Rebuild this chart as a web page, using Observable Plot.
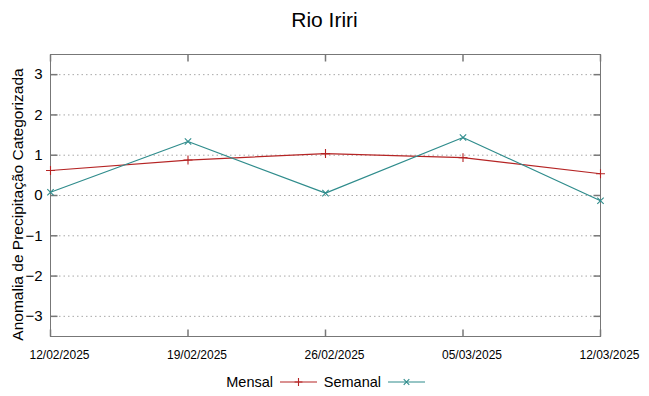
<!DOCTYPE html>
<html>
<head>
<meta charset="utf-8">
<script src="https://cdn.jsdelivr.net/npm/d3@7"></script>
<script src="https://cdn.jsdelivr.net/npm/@observablehq/plot@0.6"></script>
<style>
  html, body { margin: 0; padding: 0; background: #fff; }
  #wrap { position: relative; width: 649px; height: 396px; font-family: "Liberation Sans", Arial, sans-serif; background: #fff; overflow: hidden; }
  #chart { position: absolute; left: 0; top: 0; }
  #title { position: absolute; left: 0; top: 9px; width: 649px; text-align: center; font-size: 21px; line-height: 21px; color: #000; z-index: 2; }
  #legend { position: absolute; left: 0; top: 370px; z-index: 2; }
</style>
</head>
<body>
<div id="wrap">
  <div id="chart"></div>
  <div id="title">Rio Iriri</div>
  <div id="legend"></div>
</div>
<script>
// ---- data ----
const titleText = "Rio Iriri";
const yLabel = "Anomalia de Precipitação Categorizada";
const dates = ["12/02/2025", "19/02/2025", "26/02/2025", "05/03/2025", "12/03/2025"];
const mensal = [0.62, 0.88, 1.04, 0.94, 0.54];
const semanal = [0.08, 1.34, 0.06, 1.44, -0.13];
const yTicks = [-3, -2, -1, 0, 1, 2, 3];
const seriesNames = ["Mensal", "Semanal"];
const seriesColors = ["#b52424", "#2f8c8c"];
const seriesSymbols = ["plus", "times"];

// ---- build ----
const parse = d3.utcParse("%d/%m/%Y");
const xDates = dates.map(parse);
const seriesValues = [mensal, semanal];
const rows = [];
seriesNames.forEach((name, s) => {
  seriesValues[s].forEach((v, i) => rows.push({series: name, date: xDates[i], value: v}));
});

const frameColor = "#777";
const tickSym = (ux, uy) => ({
  draw(ctx, size) {
    const l = Math.sqrt(size / Math.PI);
    ctx.moveTo(0, 0);
    ctx.lineTo(ux * l, uy * l);
  }
});

const chart = Plot.plot({
  width: 649,
  height: 370,
  marginLeft: 50,
  marginRight: 49,
  marginTop: 54,
  marginBottom: 34,
  style: {fontFamily: "'Liberation Sans', Arial, sans-serif", fontSize: "15px", color: "#000", background: "transparent"},
  x: {type: "utc", domain: [xDates[0], xDates[xDates.length - 1]]},
  y: {domain: [-3.5, 3.5]},
  color: {domain: seriesNames, range: seriesColors},
  symbol: {domain: seriesNames, range: seriesSymbols},
  marks: [
    Plot.ruleY(yTicks, {y: d => d, stroke: "#a8a8a8", strokeDasharray: "1.5,3", strokeWidth: 1}),
    Plot.frame({stroke: frameColor, strokeWidth: 1}),
    // inward ticks
    Plot.dot(yTicks, {y: d => d, frameAnchor: "left", symbol: tickSym(1, 0), r: 7, stroke: frameColor, fill: "none"}),
    Plot.dot(yTicks, {y: d => d, frameAnchor: "right", symbol: tickSym(-1, 0), r: 7, stroke: frameColor, fill: "none"}),
    Plot.dot(xDates, {x: d => d, frameAnchor: "bottom", symbol: tickSym(0, -1), r: 7, stroke: frameColor, fill: "none"}),
    Plot.dot(xDates, {x: d => d, frameAnchor: "top", symbol: tickSym(0, 1), r: 7, stroke: frameColor, fill: "none"}),
    Plot.axisY({ticks: yTicks, tickFormat: d3.format("d"), tickSize: 0, tickPadding: 8, fontSize: 15, label: null}),
    Plot.axisX({ticks: xDates, tickFormat: d3.utcFormat("%d/%m/%Y"), tickSize: 0, tickPadding: 14, dx: 9, fontSize: 12, label: null}),
    Plot.text([yLabel], {text: d => d, frameAnchor: "left", rotate: -90, dx: -32, dy: 9, fontSize: 15.5, textAnchor: "middle", fill: "#000"}),
    Plot.line(rows, {x: "date", y: "value", z: "series", stroke: "series", strokeWidth: 1.2}),
    Plot.dot(rows, {x: "date", y: "value", symbol: "series", stroke: "series", r: 3, strokeWidth: 1.1})
  ]
});
document.getElementById("chart").appendChild(chart);
document.getElementById("title").textContent = titleText;

// ---- legend ----
const lg = d3.select("#legend").append("svg").attr("width", 649).attr("height", 26)
  .style("font-family", "'Liberation Sans', Arial, sans-serif");
const legendEnds = [273, 381];
seriesNames.forEach((name, i) => {
  const xe = legendEnds[i];
  lg.append("text").attr("x", xe).attr("y", 12).attr("dy", "0.35em")
    .attr("text-anchor", "end").attr("font-size", 14.5).attr("fill", "#000").text(name);
  lg.append("line").attr("x1", xe + 7).attr("x2", xe + 44).attr("y1", 12).attr("y2", 12)
    .attr("stroke", seriesColors[i]).attr("stroke-width", 1.2);
  const sym = seriesSymbols[i] === "plus" ? d3.symbolPlus : d3.symbolTimes;
  lg.append("path").attr("d", d3.symbol(sym, 22)())
    .attr("transform", `translate(${xe + 25.5},12)`)
    .attr("fill", "none").attr("stroke", seriesColors[i]).attr("stroke-width", 1.1);
});
</script>
</body>
</html>
